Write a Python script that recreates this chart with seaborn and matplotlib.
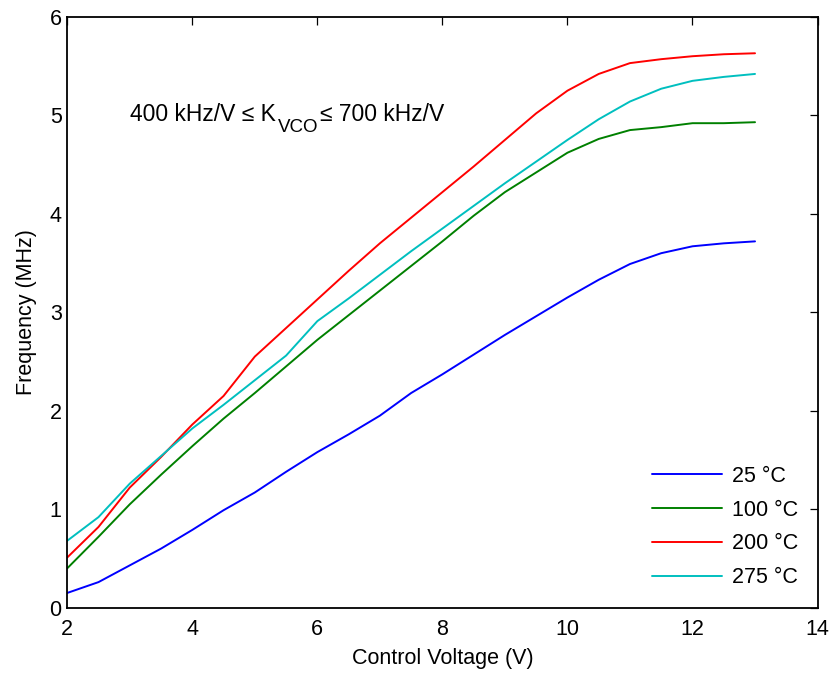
"""VCO tuning curves: frequency vs control voltage at four temperatures."""

import matplotlib
matplotlib.use('Agg')
import matplotlib.pyplot as plt
import pandas as pd
import seaborn as sns

# --- Data ---
voltage = [2, 2.5, 3, 3.5, 4, 4.5, 5, 5.5, 6, 6.5, 7, 7.5, 8,
           8.5, 9, 9.5, 10, 10.5, 11, 11.5, 12, 12.5, 13]
freq_25 = [0.15, 0.26, 0.43, 0.60, 0.79, 0.99, 1.17, 1.38, 1.58, 1.76, 1.95, 2.18, 2.37,
           2.57, 2.77, 2.96, 3.15, 3.33, 3.49, 3.60, 3.67, 3.70, 3.72]
freq_100 = [0.40, 0.72, 1.05, 1.35, 1.64, 1.92, 2.18, 2.45, 2.72, 2.97, 3.22, 3.47, 3.72,
            3.98, 4.22, 4.42, 4.62, 4.76, 4.85, 4.88, 4.92, 4.92, 4.93]
freq_200 = [0.51, 0.82, 1.22, 1.53, 1.86, 2.15, 2.55, 2.84, 3.13, 3.42, 3.70, 3.96, 4.22,
            4.48, 4.75, 5.02, 5.25, 5.42, 5.53, 5.57, 5.60, 5.62, 5.63]
freq_275 = [0.68, 0.92, 1.26, 1.54, 1.82, 2.06, 2.31, 2.56, 2.91, 3.14, 3.38, 3.62, 3.85,
            4.08, 4.31, 4.53, 4.75, 4.96, 5.14, 5.27, 5.35, 5.39, 5.42]
temps = ["25 °C", "100 °C", "200 °C", "275 °C"]

df = pd.concat([
    pd.DataFrame({"Voltage": voltage, "Frequency": f, "Temp": t})
    for t, f in zip(temps, [freq_25, freq_100, freq_200, freq_275])
])

# --- Style setup ---
sns.set_theme(style="white")
plt.rcParams['font.family'] = ['Liberation Sans', 'DejaVu Sans']
plt.rcParams['text.color'] = 'black'
plt.rcParams['axes.labelcolor'] = 'black'
palette = {"25 °C": "#0000FF", "100 °C": "#008000",
           "200 °C": "#FF0000", "275 °C": "#00BFBF"}
fs = 15.5

fig = plt.figure(figsize=(8.3, 6.73), dpi=100)
ax = fig.add_axes([0.081, 0.097, 0.904, 0.878])

sns.lineplot(data=df, x="Voltage", y="Frequency", hue="Temp", hue_order=temps,
             palette=palette, linewidth=1.4, ax=ax)

ax.set_xlim(2, 14)
ax.set_ylim(0, 6)
ax.set_xticks(range(2, 15, 2))
ax.set_yticks(range(0, 7))
ax.tick_params(direction='in', length=6, width=0.9, top=True, right=True,
               labelsize=fs, colors='black')
ax.tick_params(axis='x', pad=8)
ax.tick_params(axis='y', pad=4)
for spine in ax.spines.values():
    spine.set_color('black')
    spine.set_linewidth(1.3)

ax.set_xlabel("Control Voltage (V)", fontsize=fs, labelpad=6)
ax.set_ylabel("Frequency (MHz)", fontsize=fs, labelpad=9)

# K_VCO range note, built from three pieces so the subscript stays large
t1 = ax.text(3.0, 4.94, "400 kHz/V ≤ K", fontsize=16.5, va='baseline')
t2 = ax.annotate("VCO", xy=(1, 0), xycoords=t1, xytext=(1.5, -4.5),
                 textcoords='offset points', fontsize=13.5, va='baseline')
ax.annotate("≤ 700 kHz/V", xy=(1, 0), xycoords=t2, xytext=(1.5, 10.9),
            textcoords='offset points', fontsize=16.5, va='baseline')

ax.legend(loc='lower right', frameon=False, fontsize=fs, handlelength=3.25,
          handletextpad=0.45, labelspacing=0.6, borderaxespad=0.5)

fig.savefig("out.png", dpi=100)
plt.close(fig)
